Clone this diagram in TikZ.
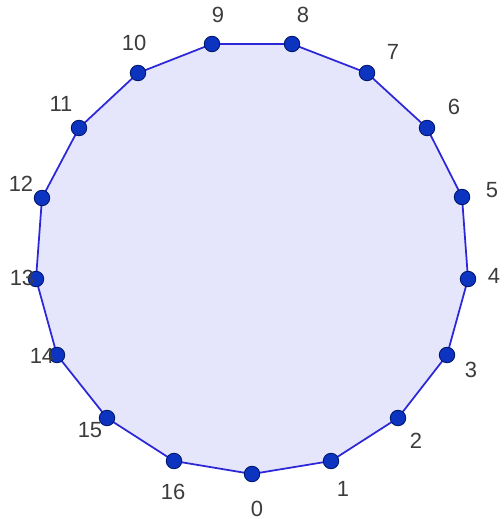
\documentclass[tikz,border=0pt]{standalone}
\usepackage{fontspec}
\setmainfont{Liberation Sans}
\definecolor{polyfill}{RGB}{229,229,251}
\definecolor{polyedge}{RGB}{45,40,215}
\definecolor{ptfill}{RGB}{12,52,192}
\definecolor{ptedge}{RGB}{0,22,105}
\definecolor{numgray}{RGB}{60,60,60}
\tikzset{
  vertex/.style={circle,fill=ptfill,draw=ptedge,line width=0.5pt,inner sep=0pt,minimum size=0.31cm},
  num/.style={font=\fontsize{12.5}{15}\selectfont,text=numgray,inner sep=0pt}
}
\begin{document}
\begin{tikzpicture}[x=0.02cm,y=-0.02cm]
\useasboundingbox (0,0) rectangle (503,519);
% corners of the 17-gon
\foreach \k/\px/\py in {0/252/474,1/331/461,2/398/418,3/447/355,4/468/279,5/462/197,
  6/427/128,7/367/73,8/292/44,9/212/44,10/138/73,11/79/128,12/42/198,13/36/279,
  14/57/355,15/107/418,16/174/461}
  \coordinate (p\k) at (\px,\py);
\fill[polyfill] (p0) \foreach \k in {1,...,16}{ -- (p\k)} -- cycle;
\draw[polyedge,line width=1pt,line join=round] (p0) \foreach \k in {1,...,16}{ -- (p\k)} -- cycle;
\foreach \k in {0,...,16}
  \node[vertex] (v\k) at (p\k) {};
% numbers
\foreach \k/\lx/\ly in {0/257/509,1/343/489,2/416/441,3/471/370,4/494/276,5/492/190,
  6/454/107,7/393/52,8/303/15,9/218/15,10/134/43,11/61/104,12/21/184,13/22/278,
  14/42/356,15/90/430,16/173/492}
  \node[num] (n\k) at (\lx,\ly) {\k};
\end{tikzpicture}
\end{document}
